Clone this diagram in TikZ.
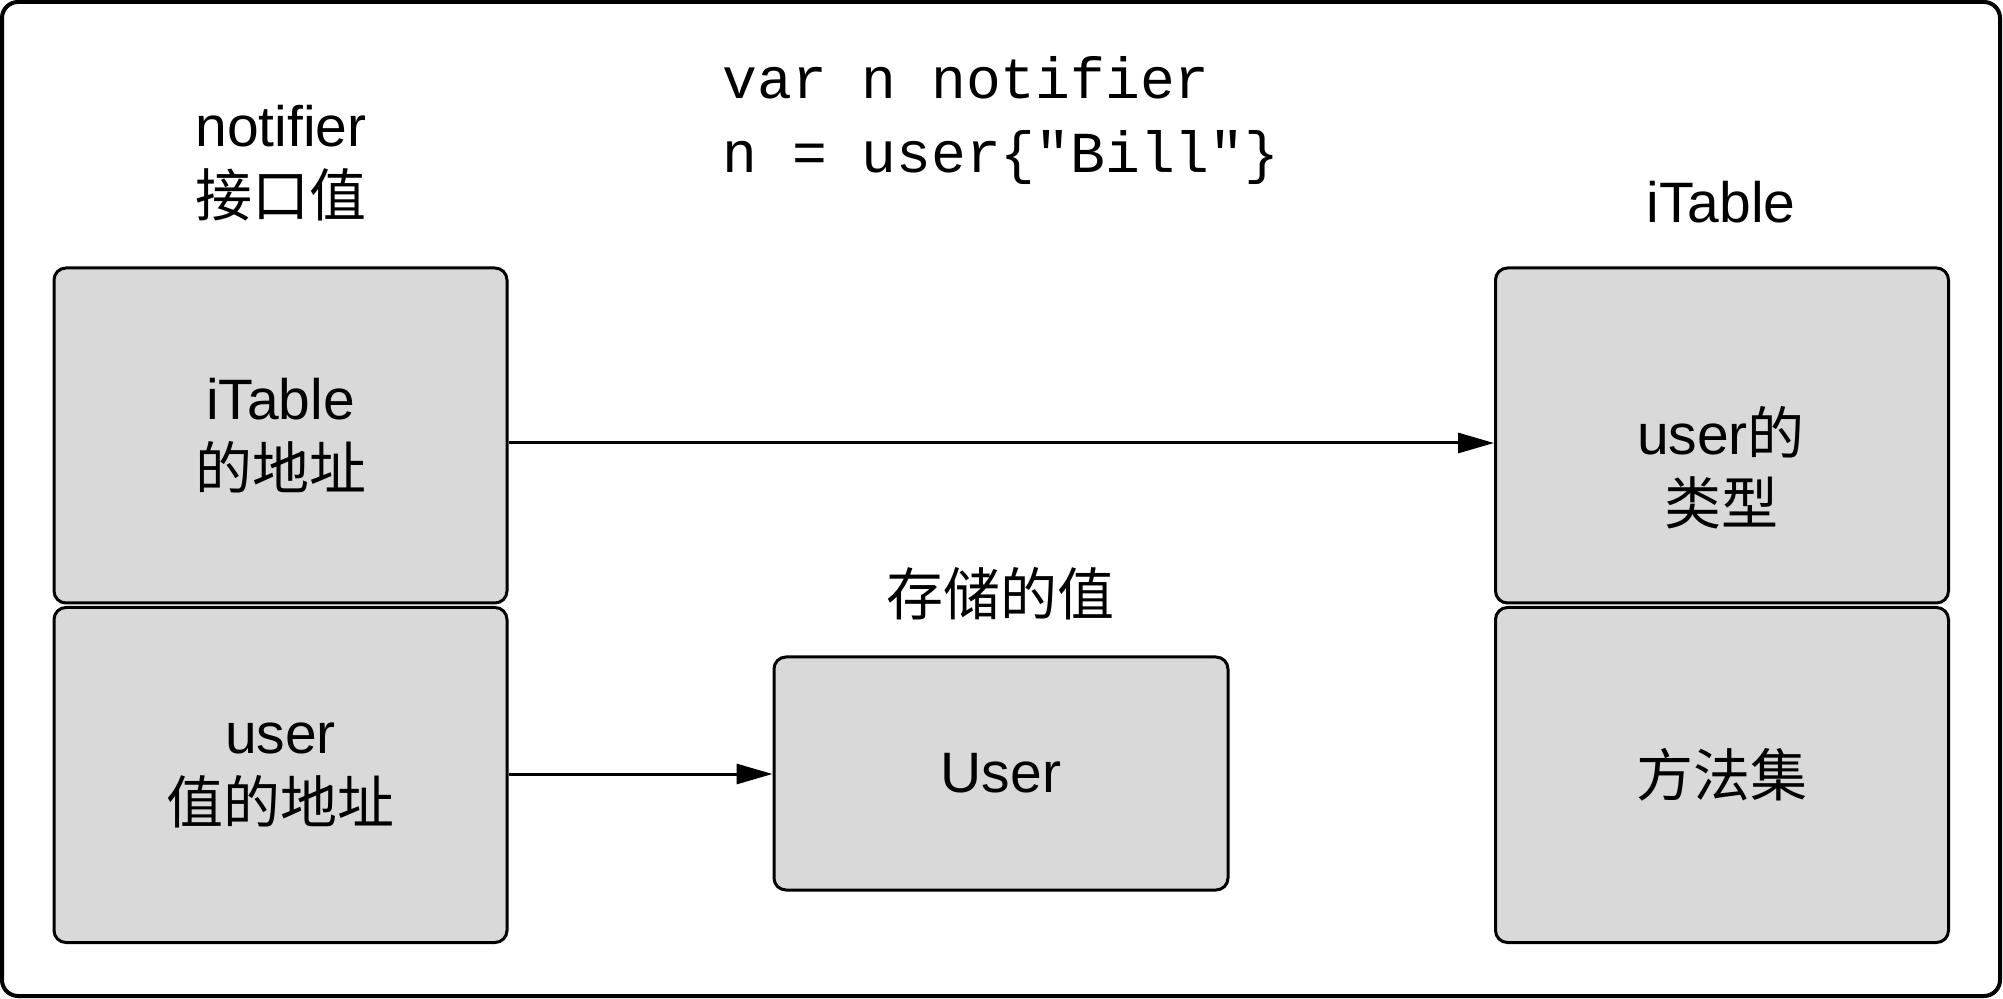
\documentclass[tikz,border=0pt]{standalone}
\usepackage{fontspec}
\setmainfont{Liberation Sans}
\newfontfamily\cjk{Noto Sans CJK SC}
\newfontfamily\codefont{Liberation Mono}
\usetikzlibrary{arrows.meta}
\definecolor{boxgray}{RGB}{217,217,217}
\tikzset{
  frame/.style={draw, line width=2pt, rounded corners=8pt, minimum width=999pt, minimum height=497pt, inner sep=0pt},
  cell/.style={draw, fill=boxgray, line width=1.5pt, rounded corners=6pt, align=center, inner sep=0pt,
    font=\fontsize{28.5}{35}\selectfont},
  tall/.style={cell, minimum width=226.5pt, minimum height=167.5pt},
  lbl/.style={align=center, inner sep=0pt, font=\fontsize{28.5}{35}\selectfont},
  code/.style={align=left, anchor=west, inner sep=0pt, font=\codefont\fontsize{29}{37}\selectfont},
  link/.style={-{Triangle[length=18pt,width=10pt]}, line width=1.5pt}
}
\begin{document}
\begin{tikzpicture}[x=0.5pt,y=-0.5pt]
\useasboundingbox (0,0) rectangle (2003,999);
\node[frame] (frame) at (1001,499) {};
\node[code] (src) at (722,121) {var n notifier\\n = user\{"Bill"\}};
\node[lbl] (ilbl) at (281,163) {notifier\\{\cjk 接口值}};
\node[lbl] (tlbl) at (1721,202) {iTable};
\node[lbl] (slbl) at (1000,594) {\cjk 存储的值};
\node[tall] (ptr1) at (280.5,435.5) {iTable\\{\cjk 的地址}};
\node[tall] (ptr2) at (280.5,775) {user\\{\cjk 值的地址}};
\node[tall] (typ) at (1722,435.5) {};
\node[lbl] (typtxt) at (1721,468) {user{\cjk 的}\\{\cjk 类型}};
\node[tall] (meth) at (1722,775) {\cjk 方法集};
\node[cell, minimum width=227pt, minimum height=116.5pt] (val) at (1001,773.5) {User};
\draw[link] (ptr1.east |- 0,443) -- (typ.west |- 0,443);
\draw[link] (ptr2.east |- 0,774) -- (val.west |- 0,774);
\end{tikzpicture}
\end{document}
